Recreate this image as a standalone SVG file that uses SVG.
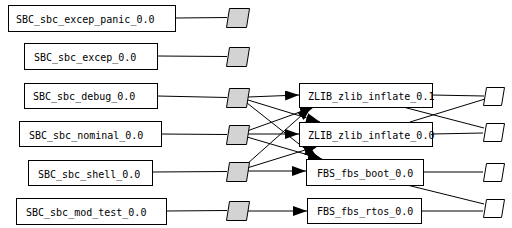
<svg xmlns="http://www.w3.org/2000/svg" width="512" height="228" viewBox="0 0 512 228">
<style>
.box{fill:#fff;stroke:#000;stroke-width:1}
.port{fill:#d3d3d3;stroke:#000;stroke-width:1}
.out{fill:#fff;stroke:#000;stroke-width:1}
.lbl{font-family:"DejaVu Sans Mono","Liberation Mono",monospace;font-size:10px;fill:#000}
.e{stroke:#000;stroke-width:1;fill:none}
.a{marker-end:url(#ah)}
</style>
<defs>
<marker id="ah" markerUnits="userSpaceOnUse" markerWidth="15" markerHeight="10" refX="14" refY="5" orient="auto">
<path d="M0,0 L14,5 L0,10 z" fill="#000"/>
</marker>
</defs>
<rect width="512" height="228" fill="#fff"/>
<g id="connectors">
<line class="e" x1="175.5" y1="18" x2="227" y2="17.5"/>
<line class="e" x1="157.5" y1="56" x2="227" y2="56.5"/>
<line class="e" x1="157.5" y1="96" x2="227" y2="97.5"/>
<line class="e" x1="161.5" y1="134" x2="227" y2="134.5"/>
<line class="e" x1="152.5" y1="172" x2="227" y2="171.5"/>
<line class="e" x1="166.5" y1="211" x2="227" y2="210.5"/>
<line class="e a" x1="248" y1="97" x2="299" y2="95"/>
<line class="e a" x1="248" y1="100" x2="320" y2="122"/>
<line class="e a" x1="247" y1="103" x2="318" y2="159"/>
<line class="e a" x1="247" y1="134" x2="299" y2="134"/>
<line class="e a" x1="247" y1="131" x2="314" y2="107"/>
<line class="e a" x1="247" y1="137" x2="322" y2="159"/>
<line class="e a" x1="246" y1="171" x2="306" y2="171"/>
<line class="e a" x1="247" y1="164" x2="311" y2="107"/>
<line class="e a" x1="247" y1="168" x2="318" y2="146"/>
<line class="e a" x1="246" y1="211" x2="307" y2="211"/>
<line class="e" x1="432" y1="95" x2="484" y2="96"/>
<line class="e" x1="403" y1="107" x2="484" y2="128"/>
<line class="e" x1="432" y1="134" x2="483" y2="133"/>
<line class="e" x1="410" y1="122" x2="485" y2="99"/>
<line class="e" x1="423" y1="172" x2="483" y2="172"/>
<line class="e" x1="407" y1="185" x2="484" y2="204"/>
<line class="e" x1="421" y1="211" x2="483" y2="211"/>
</g>
<g id="SBC_sbc_excep_panic_0.0"><rect class="box" x="8.5" y="5.5" width="167" height="26"/><text class="lbl" x="16" y="23">SBC_sbc_excep_panic_0.0</text></g>
<g id="SBC_sbc_excep_0.0"><rect class="box" x="24.5" y="43.5" width="133" height="26"/><text class="lbl" x="34" y="61">SBC_sbc_excep_0.0</text></g>
<g id="SBC_sbc_debug_0.0"><rect class="box" x="24.5" y="83.5" width="133" height="25"/><text class="lbl" x="33" y="100">SBC_sbc_debug_0.0</text></g>
<g id="SBC_sbc_nominal_0.0"><rect class="box" x="19.5" y="121.5" width="142" height="25"/><text class="lbl" x="29" y="139">SBC_sbc_nominal_0.0</text></g>
<g id="SBC_sbc_shell_0.0"><rect class="box" x="28.5" y="160.5" width="124" height="25"/><text class="lbl" x="38" y="178">SBC_sbc_shell_0.0</text></g>
<g id="SBC_sbc_mod_test_0.0"><rect class="box" x="16.5" y="198.5" width="150" height="26"/><text class="lbl" x="26" y="216">SBC_sbc_mod_test_0.0</text></g>
<g id="p1"><polygon class="port" points="229.5,8.5 249.5,8.5 246.5,27.5 226.5,27.5"/></g>
<g id="p2"><polygon class="port" points="229.5,47.5 249.5,47.5 246.5,66.5 226.5,66.5"/></g>
<g id="p3"><polygon class="port" points="229.5,88.5 249.5,88.5 246.5,107.5 226.5,107.5"/></g>
<g id="p4"><polygon class="port" points="229.5,125.5 249.5,125.5 246.5,144.5 226.5,144.5"/></g>
<g id="p5"><polygon class="port" points="229.5,162.5 249.5,162.5 246.5,181.5 226.5,181.5"/></g>
<g id="p6"><polygon class="port" points="229.5,201.5 249.5,201.5 246.5,220.5 226.5,220.5"/></g>
<g id="ZLIB_zlib_inflate_0.1"><rect class="box" x="299.5" y="83.5" width="133" height="24"/><text class="lbl" x="308" y="100">ZLIB_zlib_inflate_0.1</text></g>
<g id="ZLIB_zlib_inflate_0.0"><rect class="box" x="299.5" y="122.5" width="133" height="24"/><text class="lbl" x="308" y="139">ZLIB_zlib_inflate_0.0</text></g>
<g id="FBS_fbs_boot_0.0"><rect class="box" x="306.5" y="159.5" width="117" height="26"/><text class="lbl" x="317" y="177">FBS_fbs_boot_0.0</text></g>
<g id="FBS_fbs_rtos_0.0"><rect class="box" x="307.5" y="198.5" width="114" height="25"/><text class="lbl" x="317" y="215">FBS_fbs_rtos_0.0</text></g>
<g id="r1"><polygon class="out" points="486.5,87.5 504.5,87.5 501.5,105.5 483.5,105.5"/></g>
<g id="r2"><polygon class="out" points="486.5,123.5 504.5,123.5 501.5,141.5 483.5,141.5"/></g>
<g id="r3"><polygon class="out" points="486.5,163.5 504.5,163.5 501.5,181.5 483.5,181.5"/></g>
<g id="r4"><polygon class="out" points="486.5,199.5 504.5,199.5 501.5,217.5 483.5,217.5"/></g>
</svg>
